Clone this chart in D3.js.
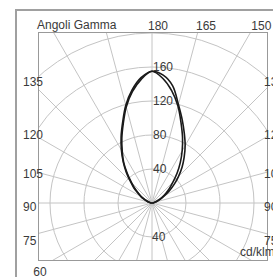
<!DOCTYPE html>
<html>
<head>
    <meta charset="UTF-8">
    <title>Angoli Gamma</title>
    <style>
      body { margin: 0; background: #fff; }
      svg { display: block; }
      text { font-family: "Liberation Sans", Arial, sans-serif; font-size: 12px; fill: #3a3a3a; }
    </style>
    <script src="https://cdn.jsdelivr.net/npm/d3@7/dist/d3.min.js" type="text/javascript"></script>
</head>
<body>
<div id="chart"></div>
<script type="text/javascript">
  // gamma angles, 180 = straight up, 90 = horizontal
  var gammas = [180, 175, 170, 165, 160, 155, 150, 145, 140, 135, 130, 125, 120, 115, 110, 105, 100, 95, 90]

  // intensity cd/klm, first curve (both halves)
  var curveALeft  = [155, 146, 133, 117, 99, 84, 70, 58, 45, 34, 26, 19, 14, 9, 6, 3, 2, 1, 0]
  var curveARight = [155, 147, 134, 118, 100, 85, 71, 58, 46, 35, 27, 20, 14, 9, 6, 3, 2, 1, 0]
  // second curve, right half a bit wider
  var curveBLeft  = [155, 148, 135, 119, 101, 86, 72, 59, 47, 36, 28, 20, 15, 10, 6, 4, 2, 1, 0]
  var curveBRight = [155, 151, 140, 120, 104, 90, 78, 66, 55, 44, 34, 25, 17, 11, 7, 4, 2, 1, 0]

  var rings = [40, 80, 120, 160, 200]
  var ringLabelsUp = [40, 80, 120, 160]
  var ringLabelsDown = [40]
  var spokes = d3.range(0, 360, 15)
  var sideLabels = [135, 120, 105, 90, 75]
  var topLabels = [180, 165, 150]
  var bottomLabels = [60]

  var width = 273, height = 277
  var cx = 152, cy = 203
  var box = { x0: 38, y0: 32, x1: 267, y1: 260 }

  var r = d3.scaleLinear().domain([0, 200]).range([0, 170])
  var rad = function(d) { return d * Math.PI / 180 }

  var svg = d3.select("#chart").append("svg")
    .attr("width", width).attr("height", height)

  // outer frame
  svg.append("path")
    .attr("d", "M16," + height + "V10H" + width)
    .attr("fill", "none").attr("stroke", "#a0a0a0").attr("stroke-width", 2)

  svg.append("clipPath").attr("id", "clip")
    .append("rect")
    .attr("x", box.x0).attr("y", box.y0)
    .attr("width", box.x1 - box.x0).attr("height", box.y1 - box.y0)

  var g = svg.append("g").attr("clip-path", "url(#clip)")
  var grid = g.append("g").attr("transform", "translate(" + cx + "," + cy + ")")

  grid.selectAll(".ring").data(rings).enter().append("circle")
    .attr("class", "ring")
    .attr("r", function(d) { return r(d) })
    .attr("fill", "none").attr("stroke", "#c4c4c4").attr("stroke-width", 1)

  grid.selectAll(".spoke").data(spokes).enter().append("line")
    .attr("class", "spoke")
    .attr("x1", 0).attr("y1", 0)
    .attr("x2", function(d) { return 400 * Math.sin(rad(d)) })
    .attr("y2", function(d) { return -400 * Math.cos(rad(d)) })
    .attr("stroke", "#c4c4c4").attr("stroke-width", 1)

  // inner square
  svg.append("rect")
    .attr("x", box.x0 + 0.5).attr("y", box.y0 + 0.5)
    .attr("width", box.x1 - box.x0).attr("height", box.y1 - box.y0)
    .attr("fill", "none").attr("stroke", "#999").attr("stroke-width", 1)

  // curves: left half from 90 up to 180, then right half back down to 90
  function halfPoints(vals, side) {
    return gammas.map(function(gm, i) { return [side * rad(180 - gm), r(vals[i])] })
  }
  function curvePoints(left, right) {
    return halfPoints(left, -1).reverse().concat(halfPoints(right, 1).slice(1))
  }
  var radial = d3.lineRadial()
    .angle(function(d) { return d[0] })
    .radius(function(d) { return d[1] })
    .curve(d3.curveCatmullRom)

  var plot = g.append("g").attr("transform", "translate(" + cx + "," + cy + ")")
  plot.selectAll(".curve")
    .data([curvePoints(curveALeft, curveARight), curvePoints(curveBLeft, curveBRight)])
    .enter().append("path")
    .attr("class", "curve")
    .attr("d", radial)
    .attr("fill", "none").attr("stroke", "#1a1a1a").attr("stroke-width", 1.6)

  // ring value labels along the vertical
  svg.selectAll(".rlab").data(ringLabelsUp).enter().append("text")
    .attr("x", cx + 1).attr("y", function(d) { return cy - r(d) })
    .attr("dy", "0.36em").text(function(d) { return d })
  svg.selectAll(".rlabd").data(ringLabelsDown).enter().append("text")
    .attr("x", cx).attr("y", function(d) { return cy + r(d) })
    .attr("dy", "0.36em").text(function(d) { return d })

  // gamma labels
  svg.selectAll(".llab").data(sideLabels).enter().append("text")
    .attr("x", 23)
    .attr("y", function(d) { return cy + 4 - 125 * Math.tan(rad(d - 90)) })
    .attr("dy", "0.36em").text(function(d) { return d })
  svg.selectAll(".rlab2").data(sideLabels).enter().append("text")
    .attr("x", 264)
    .attr("y", function(d) { return cy + 4 - 125 * Math.tan(rad(d - 90)) })
    .attr("dy", "0.36em").text(function(d) { return d })
  svg.selectAll(".tlab").data(topLabels).enter().append("text")
    .attr("x", function(d) { return cx - 4 + 179 * Math.tan(rad(180 - d)) })
    .attr("y", 30).text(function(d) { return d })
  svg.selectAll(".blab").data(bottomLabels).enter().append("text")
    .attr("x", function(d) { return cx - 1 - 68 / Math.tan(rad(90 - d)) })
    .attr("y", 276).text(function(d) { return d })

  svg.append("text").attr("x", 37).attr("y", 29).text("Angoli Gamma")
  svg.append("text").attr("x", 240).attr("y", 256).text("cd/klm")
</script>
</body>
</html>
